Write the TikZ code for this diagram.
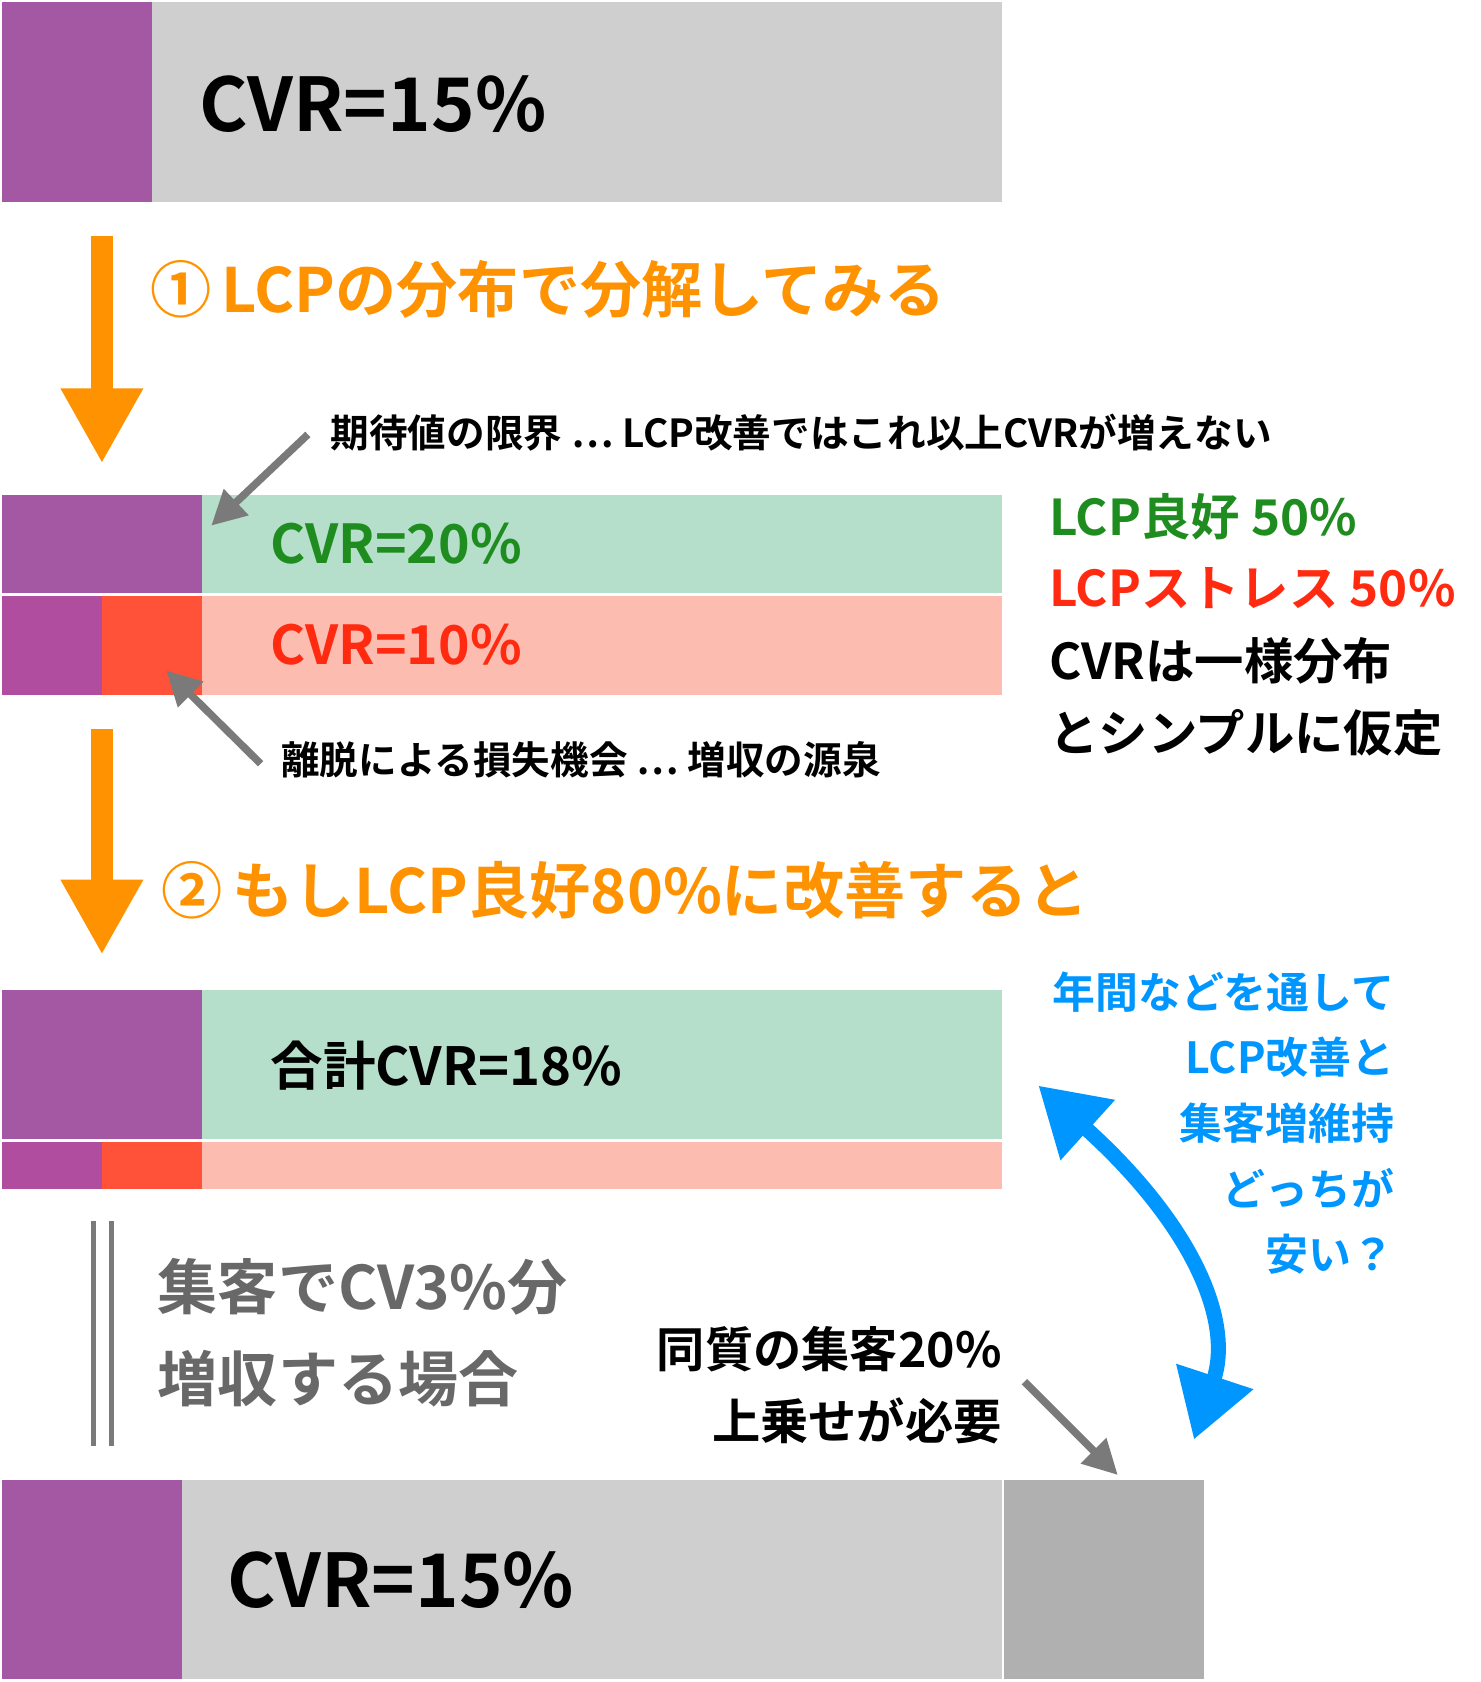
\documentclass[tikz,border=0pt]{standalone}
\usepackage{fontspec}
\setmainfont{Noto Sans CJK JP}[BoldFont={Noto Sans CJK JP Bold}]
\usetikzlibrary{arrows.meta}
\definecolor{purp}{HTML}{A457A2}
\definecolor{purpb}{HTML}{B04D9E}
\definecolor{barg}{HTML}{CFCFCF}
\definecolor{bargd}{HTML}{B0B0B0}
\definecolor{goodg}{HTML}{B5DFCA}
\definecolor{badr}{HTML}{FF5238}
\definecolor{badp}{HTML}{FDBCB0}
\definecolor{txtg}{HTML}{1E8C1E}
\definecolor{txtr}{HTML}{FF2A10}
\definecolor{orng}{HTML}{FF9200}
\definecolor{blu}{HTML}{0096FF}
\definecolor{arrg}{HTML}{7A7A7A}
\tikzset{%
    lbl/.style={inner sep=0pt,anchor=west,font=\bfseries},
    flow/.style={-{Triangle[length=70pt,width=72pt]},line width=20pt,orng},
    pointer/.style={-{Triangle[length=32pt,width=32pt]},line width=7pt,arrg},
}
\begin{document}
\begin{tikzpicture}[x=1pt,y=-1pt]
        \useasboundingbox (0,0) rectangle (1380,1568);
        % top bar
        \fill[purp] (2,2) rectangle (142,188);
        \fill[barg] (142,2) rectangle (934,188);
        \node[lbl,font=\bfseries\fontsize{69}{69}\selectfont] (cvrA) at (186,97) {CVR=15\%};

        \draw[flow] (95,220) coordinate (f1s) -- (95,432) coordinate (f1e);
        \node[lbl,orng,font=\bfseries\fontsize{57}{57}\selectfont] (stepA) at (140,270) {①\,LCPの分布で分解してみる};

        % split bar
        \fill[purp] (2,461) rectangle (188,553);
        \fill[goodg] (188,461) rectangle (934,553);
        \fill[purpb] (2,556) rectangle (95,648);
        \fill[badr] (95,556) rectangle (188,648);
        \fill[badp] (188,556) rectangle (934,648);
        \node[lbl,txtg,font=\bfseries\fontsize{50}{50}\selectfont] (cvrGood) at (252,507) {CVR=20\%};
        \node[lbl,txtr,font=\bfseries\fontsize{50}{50}\selectfont] (cvrBad) at (252,601) {CVR=10\%};

        \node[lbl,font=\bfseries\fontsize{36}{36}\selectfont] (limit) at (308,403) {期待値の限界 ⋯ LCP改善ではこれ以上CVRが増えない};
        \draw[pointer] (287,405) coordinate (p1) -- (197,490);
        \node[lbl,font=\bfseries\fontsize{36}{36}\selectfont] (loss) at (262,708) {離脱による損失機会 ⋯ 増収の源泉};
        \draw[pointer] (243,712) coordinate (p2) -- (155,625);

        \node[lbl,txtg,font=\bfseries\fontsize{46}{46}\selectfont] (good) at (978,482) {LCP良好 50\%};
        \node[lbl,txtr,font=\bfseries\fontsize{46}{46}\selectfont] (stress) at (978,548) {LCPストレス 50\%};
        \node[lbl,font=\bfseries\fontsize{46}{46}\selectfont] (unif) at (978,616) {CVRは一様分布};
        \node[lbl,font=\bfseries\fontsize{46}{46}\selectfont] (assume) at (978,683) {とシンプルに仮定};

        \draw[flow] (95,680) coordinate (f2s) -- (95,890) coordinate (f2e);
        \node[lbl,orng,font=\bfseries\fontsize{57}{57}\selectfont] (stepB) at (150,830) {②\,もしLCP良好80\%に改善すると};

        % improved bar
        \fill[purp] (2,923) rectangle (188,1062);
        \fill[goodg] (188,923) rectangle (934,1062);
        \fill[purpb] (2,1065) rectangle (95,1108);
        \fill[badr] (95,1065) rectangle (188,1108);
        \fill[badp] (188,1065) rectangle (934,1108);
        \node[lbl,font=\bfseries\fontsize{49}{49}\selectfont] (total) at (252,993) {合計CVR=18\%};

        \draw[arrg,line width=5pt] (87,1138) -- (87,1348) (104,1138) -- (104,1348);
        \node[lbl,arrg!85!black,font=\bfseries\fontsize{56}{56}\selectfont] (alt1) at (147,1200) {集客でCV3\%分};
        \node[lbl,arrg!85!black,font=\bfseries\fontsize{56}{56}\selectfont] (alt2) at (147,1285) {増収する場合};

        \node[lbl,anchor=east,font=\bfseries\fontsize{45}{45}\selectfont] (same) at (934,1258) {同質の集客20\%};
        \node[lbl,anchor=east,font=\bfseries\fontsize{45}{45}\selectfont] (extra) at (934,1325) {上乗せが必要};
        \draw[pointer] (955,1288) coordinate (p3) -- (1042,1375);

        \foreach \t [count=\i] in {年間などを通して,LCP改善と,集客増維持,どっちが,安い？}
            \node[lbl,anchor=east,blu,font=\bfseries\fontsize{40}{40}\selectfont] (q\i) at (1300,864+61*\i) {\t};
        \draw[blu,line width=14pt,{Triangle[length=62pt,width=72pt]}-{Triangle[length=62pt,width=72pt]}]
            (968,1012) .. controls (1110,1140) and (1150,1230) .. (1113,1342);

        % bottom bar
        \fill[purp] (2,1380) rectangle (170,1565);
        \fill[barg] (170,1380) rectangle (934,1565);
        \fill[bargd] (936,1380) rectangle (1122,1565);
        \node[lbl,font=\bfseries\fontsize{69}{69}\selectfont] (cvrB) at (212,1473) {CVR=15\%};
\end{tikzpicture}
\end{document}
